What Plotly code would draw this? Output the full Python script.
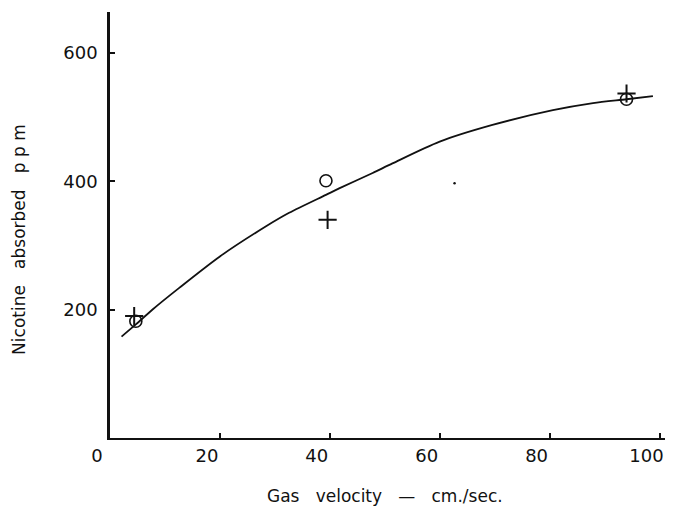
import plotly.graph_objects as go

# Data
circle_x = [4.7, 39.3, 94.0]
circle_y = [182, 401, 528]
plus_x = [4.4, 39.6, 94.0]
plus_y = [190, 340, 537]
curve_x = [2.1, 4.7, 7.7, 12.6, 20, 28.4, 32.6, 39.3, 41.7, 47.8, 51.4, 60, 69.6, 80.6, 87.9, 94, 98.8]
curve_y = [158, 177, 200, 234, 283, 330, 351, 379, 389, 413, 428, 462, 488, 511, 522, 528, 533]
x_ticks = [0, 20, 40, 60, 80, 100]
x_tick_labels = ["0", "20", "40", "60", "80", "100"]
y_ticks = [200, 400, 600]
y_tick_labels = ["200", "400", "600"]
speck_x = [62.7]
speck_y = [397]

FONT = "DejaVu Sans"
INK = "#111111"

fig = go.Figure()
fig.add_trace(go.Scatter(x=curve_x, y=curve_y, mode="lines",
                         line=dict(color=INK, width=1.8, shape="spline", smoothing=0.8),
                         hoverinfo="skip", showlegend=False))
fig.add_trace(go.Scatter(x=circle_x, y=circle_y, mode="markers",
                         marker=dict(symbol="circle-open", size=12, color=INK, line=dict(width=1.6, color=INK)),
                         showlegend=False))
fig.add_trace(go.Scatter(x=plus_x, y=plus_y, mode="markers",
                         marker=dict(symbol="cross-thin-open", size=13, color=INK, line=dict(width=2, color=INK)),
                         showlegend=False))
fig.add_trace(go.Scatter(x=speck_x, y=speck_y, mode="markers",
                         marker=dict(symbol="circle", size=2.5, color=INK),
                         showlegend=False))

# The page has an 8px body margin, so the figure is sized and offset to compensate
fig.update_layout(
    width=676, height=500,
    margin=dict(l=102, r=19, t=4, b=70),
    paper_bgcolor="white", plot_bgcolor="white",
    font=dict(family=FONT, color=INK),
    xaxis=dict(range=[0, 101], showgrid=False, zeroline=False,
               showline=True, linecolor=INK, linewidth=2,
               tickmode="array", tickvals=x_ticks, ticktext=x_tick_labels,
               ticks="inside", ticklen=5, tickwidth=1.5, tickcolor=INK,
               tickfont=dict(family=FONT, size=18, color=INK),
               ticklabelshift=-13, ticklabelstandoff=0),
    yaxis=dict(range=[0, 664], showgrid=False, zeroline=False,
               showline=True, linecolor=INK, linewidth=2.5,
               tickmode="array", tickvals=y_ticks, ticktext=y_tick_labels,
               ticks="inside", ticklen=5, tickwidth=1.5, tickcolor=INK,
               tickfont=dict(family=FONT, size=18, color=INK),
               ticklabelstandoff=6),
    annotations=[
        dict(text="Gas   velocity   —   cm./sec.", xref="paper", yref="paper",
             x=0.495, y=0, yshift=-58, xanchor="center", yanchor="middle",
             showarrow=False, font=dict(family=FONT, size=17, color=INK)),
        dict(text="Nicotine   absorbed   p p m", xref="paper", yref="paper",
             x=0, xshift=-91, y=0.465, textangle=-90, xanchor="center", yanchor="middle",
             showarrow=False, font=dict(family=FONT, size=17, color=INK)),
    ],
)

fig.write_html("out.html")
